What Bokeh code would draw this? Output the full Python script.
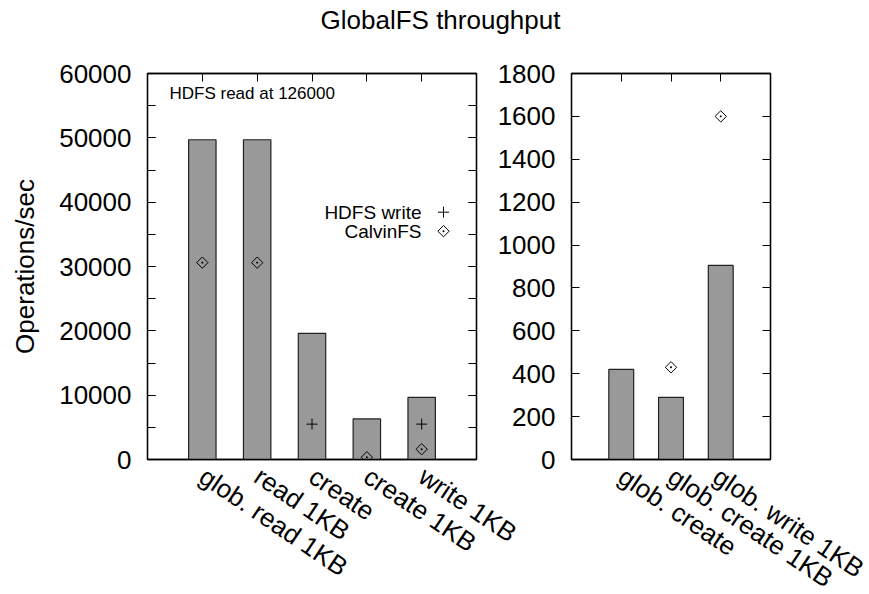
import math
from bokeh.plotting import figure
from bokeh.models import (Range1d, LinearAxis, FixedTicker, SingleIntervalTicker, Label,
                          ColumnDataSource, BasicTickFormatter)
from bokeh.layouts import column, row
from bokeh.embed import file_html
from bokeh.resources import INLINE

nan = float("nan")

# ---- data ----
left_categories = ["glob. read 1KB", "read 1KB", "create", "create 1KB", "write 1KB"]
left_globalfs = [49700, 49700, 19600, 6300, 9650]
left_hdfs_write = [nan, nan, 5500, nan, 5500]
left_calvinfs = [30600, 30600, nan, 350, 1600]

right_categories = ["glob. create", "glob. create 1KB", "glob. write 1KB"]
right_globalfs = [420, 290, 905]
right_calvinfs = [nan, 430, 1600]

legend_labels = ["HDFS write", "CalvinFS"]
note_text = "HDFS read at 126000"

FONT = "Liberation Sans"
BIG = "26px"
BAR_FILL = "#999999"
BAR_LINE = "#222222"
FRAME_H = 386
ANGLE = -34 * math.pi / 180


def style_axis(ax, labels=True, tick_len=8):
    ax.axis_line_color = "black"
    ax.axis_line_width = 1.3
    ax.major_tick_in = tick_len
    ax.major_tick_out = 0
    ax.minor_tick_in = tick_len
    ax.minor_tick_out = 0
    ax.major_tick_line_color = "black"
    ax.minor_tick_line_color = "black"
    ax.major_label_text_font = FONT
    if labels:
        ax.major_label_text_font_size = BIG
        ax.major_label_text_color = "black"
    else:
        ax.major_label_text_font_size = "8px"
        ax.major_label_text_color = None
    ax.axis_label_text_font = FONT
    ax.axis_label_text_font_size = BIG
    ax.axis_label_text_font_style = "normal"
    ax.axis_label_text_color = "black"


def make_panel(cats, bars, y_max, y_interval, minor, width_px, left_border, right_border, extra):
    n = len(cats)
    xs = list(range(1, n + 1))
    p = figure(frame_width=width_px, frame_height=FRAME_H,
               min_border_left=left_border, min_border_right=right_border,
               min_border_top=33, min_border_bottom=135,
               x_range=Range1d(0, n + 1), y_range=Range1d(0, y_max),
               toolbar_location=None, output_backend="svg", **extra)
    p.grid.visible = False
    p.outline_line_color = "black"
    p.outline_line_width = 1.3
    p.background_fill_color = "white"

    # bottom axis (category labels)
    xa = p.xaxis[0]
    xa.ticker = FixedTicker(ticks=xs)
    xa.major_label_overrides = {i: c for i, c in zip(xs, cats)}
    xa.major_label_orientation = ANGLE
    style_axis(xa)
    xa.major_tick_in = 0
    xa.major_label_standoff = 14

    # top mirror axis
    ta = LinearAxis(ticker=FixedTicker(ticks=xs))
    style_axis(ta, labels=False)
    p.add_layout(ta, "above")

    # left axis
    ya = p.yaxis[0]
    ya.ticker = SingleIntervalTicker(interval=y_interval, num_minor_ticks=minor)
    ya.formatter = BasicTickFormatter(use_scientific=False)
    style_axis(ya)
    ya.major_label_standoff = 16

    # right mirror axis
    ra = LinearAxis(ticker=SingleIntervalTicker(interval=y_interval, num_minor_ticks=minor))
    style_axis(ra, labels=False)
    p.add_layout(ra, "right")

    src = ColumnDataSource(dict(x=xs, v=bars))
    p.vbar(x="x", top="v", width=0.5, source=src,
           fill_color=BAR_FILL, line_color=BAR_LINE, line_width=1.2)
    return p, xs


def plus(p, x, y):
    return p.scatter(x, y, marker="cross", size=11, line_color="black", line_width=1)


def diamond(p, x, y):
    return p.scatter(x, y, marker="square_dot", angle=math.pi / 4, size=8,
                     fill_color=None, line_color="black", line_width=1)


# ---- left panel ----
LEFT_W = 329
LEFT_YMAX = 60000
p1, xs1 = make_panel(left_categories, left_globalfs, LEFT_YMAX, 10000, 2, LEFT_W, 147, 70, {})
p1.yaxis[0].axis_label = "Operations/sec"
p1.yaxis[0].axis_label_standoff = 16

plus(p1, xs1, left_hdfs_write)
diamond(p1, xs1, left_calvinfs)

# key (legend) : text right-aligned, symbol to its right, gnuplot style
key_sym_px = 296          # symbol centre, px from frame left
key_text_px = 274         # text right edge, px from frame left
key_rows_px = [247.3, 228.3]  # row centres, px from frame bottom
x_range_len = len(left_categories) + 1
kx = key_sym_px / LEFT_W * x_range_len
ky = [r / FRAME_H * LEFT_YMAX for r in key_rows_px]
plus(p1, [kx], [ky[0]])
diamond(p1, [kx], [ky[1]])
for txt, yy in zip(legend_labels, key_rows_px):
    p1.add_layout(Label(x=key_text_px, y=yy, x_units="screen", y_units="screen", text=txt,
                        text_align="right", text_baseline="middle",
                        text_font=FONT, text_font_size="19px", text_color="black"))
p1.add_layout(Label(x=22, y=366, x_units="screen", y_units="screen",
                    text=note_text, text_align="left", text_baseline="middle",
                    text_font=FONT, text_font_size="17px", text_color="black"))

# ---- right panel ----
p2, xs2 = make_panel(right_categories, right_globalfs, 1800, 200, 0, 199, 100, 99,
                     dict(margin=(0, 0, 0, -75), border_fill_color=None))
diamond(p2, xs2, right_calvinfs)

# ---- title ----
tf = figure(width=869, height=40, x_range=Range1d(0, 1), y_range=Range1d(0, 1),
            min_border=0, toolbar_location=None, output_backend="svg")
tf.axis.visible = False
tf.grid.visible = False
tf.outline_line_color = None
tf.add_layout(Label(x=440, y=21, x_units="screen", y_units="screen",
                    text="GlobalFS throughput", text_align="center", text_baseline="middle",
                    text_font=FONT, text_font_size=BIG, text_color="black"))

layout = column(tf, row(p1, p2))
open("out.html", "w").write(file_html(layout, INLINE))
